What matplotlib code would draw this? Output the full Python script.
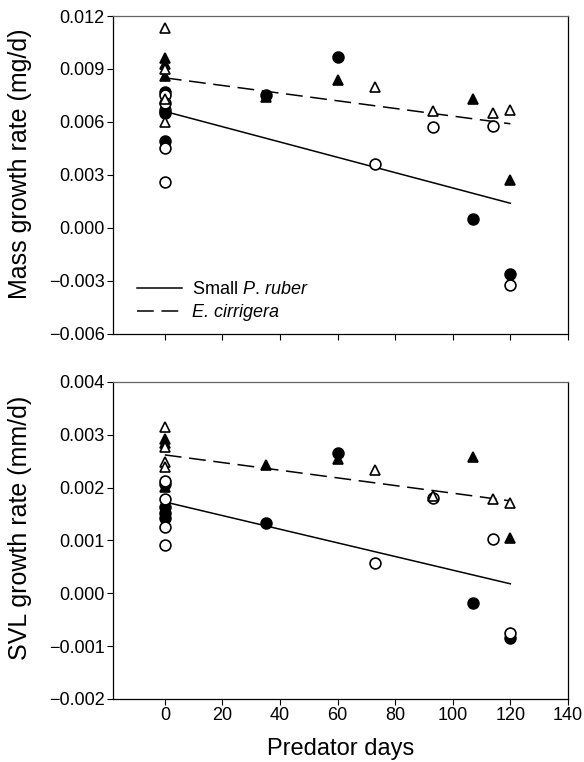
import matplotlib
matplotlib.use("Agg")
import matplotlib.pyplot as plt
from matplotlib.ticker import FuncFormatter, MultipleLocator
from matplotlib.lines import Line2D

plt.rcParams['font.family'] = ['Liberation Sans', 'DejaVu Sans']
plt.rcParams['mathtext.fontset'] = 'custom'
plt.rcParams['mathtext.rm'] = 'Liberation Sans'
plt.rcParams['mathtext.it'] = 'Liberation Sans:italic'

# ---- mass growth rate (mg/d) ----
mass_open_tri_x = [0, 0, 0, 0, 73, 93, 114, 120]
mass_open_tri_y = [0.0113, 0.0090, 0.0073, 0.0060, 0.0080, 0.0066, 0.0065, 0.0067]
mass_fill_tri_x = [0, 0, 0, 0, 35, 60, 107, 120]
mass_fill_tri_y = [0.0096, 0.0093, 0.0086, 0.0068, 0.0074, 0.0084, 0.0073, 0.0027]
mass_open_circ_x = [0, 0, 0, 0, 73, 93, 114, 120]
mass_open_circ_y = [0.0075, 0.0071, 0.0045, 0.0026, 0.0036, 0.0057, 0.0058, -0.0032]
mass_fill_circ_x = [0, 0, 0, 0, 35, 60, 107, 120]
mass_fill_circ_y = [0.0077, 0.0067, 0.0065, 0.0049, 0.0075, 0.0097, 0.0005, -0.0026]

# ---- SVL growth rate (mm/d) ----
svl_open_tri_x = [0, 0, 0, 0, 73, 93, 114, 120]
svl_open_tri_y = [0.00315, 0.00277, 0.00249, 0.00240, 0.00233, 0.00185, 0.00179, 0.00171]
svl_fill_tri_x = [0, 0, 0, 35, 60, 107, 120]
svl_fill_tri_y = [0.00293, 0.00285, 0.00202, 0.00242, 0.00254, 0.00258, 0.00105]
svl_open_circ_x = [0, 0, 0, 0, 73, 93, 114, 120]
svl_open_circ_y = [0.00213, 0.00179, 0.00126, 0.00091, 0.00058, 0.00180, 0.00103, -0.00076]
svl_fill_circ_x = [0, 0, 0, 0, 35, 60, 107, 120]
svl_fill_circ_y = [0.00206, 0.00163, 0.00152, 0.00143, 0.00133, 0.00266, -0.00018, -0.00085]

# regression line end points
fit_x = [0, 120]
mass_ruber_fit = [0.0066, 0.0014]
mass_cirr_fit = [0.0085, 0.0059]
svl_ruber_fit = [0.00173, 0.00018]
svl_cirr_fit = [0.00262, 0.00175]


def minus_fmt(v, pos):
    s = '%.3f' % v
    if s.startswith('-'):
        s = '\u2212' + s[1:]
    return s


def style_axis(ax, ylo, yhi, step):
    ax.set_xlim(-18, 140)
    ax.set_ylim(ylo, yhi)
    ax.yaxis.set_major_locator(MultipleLocator(step))
    ax.yaxis.set_major_formatter(FuncFormatter(minus_fmt))
    ax.set_xticks(range(0, 141, 20))
    ax.tick_params(direction='out', length=4, width=0.8, labelsize=13,
                   pad=2, top=False, right=False)
    ax.spines['top'].set_color('#666666')
    for s in ['left', 'bottom', 'right']:
        ax.spines[s].set_color('black')
    for s in ax.spines.values():
        s.set_linewidth(0.9)


def draw(ax, otx, oty, ftx, fty, ocx, ocy, fcx, fcy, rfit, cfit):
    ax.plot(fit_x, cfit, color='black', lw=1.1, dashes=(11, 5), zorder=2)
    ax.plot(fit_x, rfit, color='black', lw=1.1, zorder=2)
    ms = 7.8
    ax.plot(fcx, fcy, 'o', ms=ms, mfc='black', mec='black', mew=1.2, ls='none', zorder=3)
    ax.plot(ftx, fty, '^', ms=ms, mfc='black', mec='black', mew=1.2, ls='none', zorder=3)
    ax.plot(ocx, ocy, 'o', ms=ms, mfc='white', mec='black', mew=1.2, ls='none', zorder=4)
    ax.plot(otx, oty, '^', ms=ms, mfc='white', mec='black', mew=1.2, ls='none', zorder=4)


fig = plt.figure(figsize=(5.84, 7.62), dpi=100)
ax1 = fig.add_axes([0.1935, 0.5617, 0.779, 0.4173])
ax2 = fig.add_axes([0.1935, 0.0827, 0.779, 0.416])

draw(ax1, mass_open_tri_x, mass_open_tri_y, mass_fill_tri_x, mass_fill_tri_y,
     mass_open_circ_x, mass_open_circ_y, mass_fill_circ_x, mass_fill_circ_y,
     mass_ruber_fit, mass_cirr_fit)
draw(ax2, svl_open_tri_x, svl_open_tri_y, svl_fill_tri_x, svl_fill_tri_y,
     svl_open_circ_x, svl_open_circ_y, svl_fill_circ_x, svl_fill_circ_y,
     svl_ruber_fit, svl_cirr_fit)

style_axis(ax1, -0.006, 0.012, 0.003)
style_axis(ax2, -0.002, 0.004, 0.001)
ax1.tick_params(labelbottom=False)

ax1.set_ylabel('Mass growth rate (mg/d)', fontsize=18)
ax2.set_ylabel('SVL growth rate (mm/d)', fontsize=18)
ax1.yaxis.set_label_coords(-0.178, 0.535)
ax2.yaxis.set_label_coords(-0.178, 0.54)
ax2.set_xlabel('Predator days', fontsize=17, labelpad=10)

handles = [Line2D([], [], color='black', lw=1.1),
           Line2D([], [], color='black', lw=1.1, dashes=(11, 5))]
leg = ax1.legend(handles, [r'Small $\it{P.\,ruber}$', 'E. cirrigera'],
                 loc='lower left', bbox_to_anchor=(0.017, -0.01), frameon=False,
                 fontsize=13, handlelength=2.5, handletextpad=0.55, labelspacing=0.3)
leg.get_texts()[1].set_fontstyle('italic')

fig.savefig('out.png', dpi=100)
